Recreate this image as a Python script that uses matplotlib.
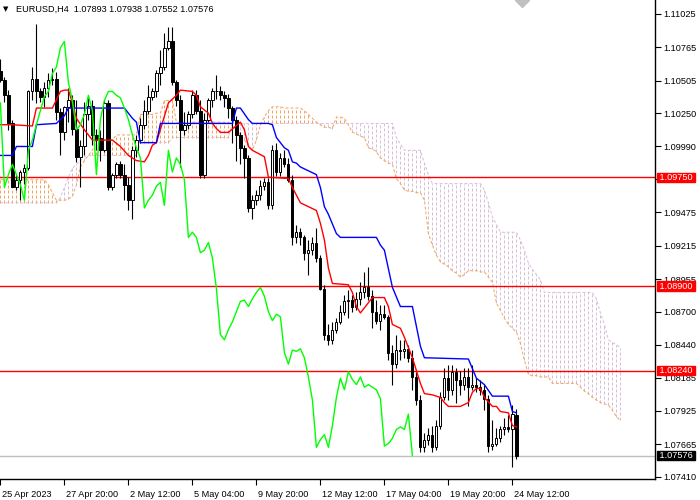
import numpy as np
import matplotlib
matplotlib.use("Agg")
import matplotlib.pyplot as plt
from matplotlib.transforms import ScaledTranslation, blended_transform_factory

plt.rcParams['font.family'] = ['Liberation Sans', 'DejaVu Sans']

# EURUSD H4 candles
opens = [1.1058, 1.1051, 1.1039, 1.1017, 1.0967, 1.0973, 1.0979, 1.0982, 1.1042, 1.1052,
         1.1042, 1.1038, 1.1045, 1.1051, 1.1052, 1.1026, 1.1010, 1.1030, 1.1035, 1.1013,
         1.0991, 1.0999, 1.1024, 1.1031, 1.1008, 1.1006, 1.0996, 1.1033, 1.0967, 1.0977,
         1.0985, 1.0977, 1.0969, 1.0957, 1.0996, 1.1004, 1.1016, 1.1027, 1.1038, 1.1042,
         1.1056, 1.1061, 1.1076, 1.1081, 1.1049, 1.1035, 1.1012, 1.1016, 1.1024, 1.1039,
         1.1027, 1.0977, 1.1020, 1.1035, 1.1042, 1.1042, 1.1039, 1.1037, 1.1029, 1.1020,
         1.1008, 1.0998, 1.0990, 1.0951, 1.0957, 1.0961, 1.0968, 1.0971, 1.0953, 1.0996,
         1.0979, 1.0990, 1.0985, 1.0973, 1.0928, 1.0932, 1.0928, 1.0916, 1.0918, 1.0924,
         1.0912, 1.0888, 1.0852, 1.0848, 1.0856, 1.0862, 1.0870, 1.0878, 1.0879, 1.0874,
         1.0880, 1.0885, 1.0889, 1.0882, 1.0870, 1.0863, 1.0868, 1.0866, 1.0838, 1.0829,
         1.0840, 1.0839, 1.0841, 1.0834, 1.0819, 1.0801, 1.0764, 1.0770, 1.0774, 1.0764,
         1.0781, 1.0803, 1.0818, 1.0809, 1.0823, 1.0817, 1.0813, 1.0819, 1.0811, 1.0813,
         1.0811, 1.0809, 1.0802, 1.0765, 1.0767, 1.0771, 1.0778, 1.0780, 1.0778, 1.07893]
highs = [1.1067, 1.1053, 1.1043, 1.1020, 1.0977, 1.0981, 1.0985, 1.1043, 1.1061, 1.1095,
         1.1045, 1.1049, 1.1056, 1.1060, 1.1057, 1.1029, 1.1031, 1.1045, 1.1039, 1.1035,
         1.1004, 1.1034, 1.1037, 1.1035, 1.1013, 1.1012, 1.1035, 1.1035, 1.0978, 1.0987,
         1.0988, 1.0985, 1.0975, 1.0999, 1.1008, 1.1021, 1.1035, 1.1047, 1.1045, 1.1059,
         1.1074, 1.1088, 1.1092, 1.1092, 1.1051, 1.1039, 1.1026, 1.1027, 1.1043, 1.1043,
         1.1035, 1.1025, 1.1037, 1.1045, 1.1055, 1.1046, 1.1042, 1.1040, 1.1031, 1.1023,
         1.1010, 1.1000, 1.0992, 1.0961, 1.0965, 1.0973, 1.0974, 1.0974, 1.1000, 1.1002,
         1.0994, 1.0996, 1.0990, 1.0977, 1.0938, 1.0935, 1.0930, 1.0926, 1.0928, 1.0935,
         1.0914, 1.0891, 1.0860, 1.0862, 1.0865, 1.0875, 1.0883, 1.0887, 1.0883, 1.0885,
         1.0893, 1.0901, 1.0905, 1.0887, 1.0879, 1.0875, 1.0875, 1.0867, 1.0844, 1.0852,
         1.0848, 1.0848, 1.0844, 1.0840, 1.0823, 1.0805, 1.0775, 1.0779, 1.0781, 1.0785,
         1.0807, 1.0826, 1.0828, 1.0828, 1.0826, 1.0824, 1.0826, 1.0826, 1.0828, 1.0818,
         1.0817, 1.0813, 1.0805, 1.0785, 1.0779, 1.0781, 1.0787, 1.0789, 1.0797, 1.07938]
lows = [1.1049, 1.1034, 1.1012, 1.0967, 1.0965, 1.0957, 1.0970, 1.0981, 1.1035, 1.1033,
        1.1034, 1.1030, 1.1038, 1.1047, 1.1020, 1.0992, 1.1004, 1.1018, 1.1008, 1.0987,
        1.0967, 1.0992, 1.1020, 1.1000, 1.0996, 1.0988, 1.0995, 1.0965, 1.0965, 1.0974,
        1.0974, 1.0957, 1.0949, 1.0942, 1.0991, 1.1002, 1.1013, 1.1024, 1.1035, 1.1038,
        1.1047, 1.1059, 1.1074, 1.1047, 1.1031, 1.0983, 1.1008, 1.1013, 1.1021, 1.1024,
        1.0974, 1.0974, 1.1018, 1.1030, 1.1036, 1.1035, 1.1030, 1.1021, 1.1002, 1.0988,
        1.0985, 1.0974, 1.0948, 1.0942, 1.0953, 1.0957, 1.0965, 1.0950, 1.0950, 1.0976,
        1.0976, 1.0983, 1.0971, 1.0922, 1.0924, 1.0922, 1.0910, 1.0899, 1.0914, 1.0909,
        1.0887, 1.0848, 1.0844, 1.0845, 1.0853, 1.0860, 1.0867, 1.0865, 1.0870, 1.0871,
        1.0875, 1.0881, 1.0879, 1.0857, 1.0860, 1.0856, 1.0864, 1.0832, 1.0813, 1.0826,
        1.0832, 1.0834, 1.0831, 1.0809, 1.0797, 1.0760, 1.0760, 1.0766, 1.0760, 1.0762,
        1.0778, 1.0801, 1.0801, 1.0805, 1.0799, 1.0805, 1.0809, 1.0796, 1.0809, 1.0807,
        1.0805, 1.0793, 1.0760, 1.0762, 1.0765, 1.0768, 1.0774, 1.0776, 1.0749, 1.07552]
closes = [1.1051, 1.1039, 1.1017, 1.0967, 1.0973, 1.0979, 1.0982, 1.1042, 1.1052, 1.1042,
          1.1038, 1.1045, 1.1051, 1.1052, 1.1026, 1.1010, 1.1030, 1.1035, 1.1013, 1.0991,
          1.0999, 1.1024, 1.1031, 1.1008, 1.1004, 1.0996, 1.1033, 1.0967, 1.0977, 1.0985,
          1.0977, 1.0969, 1.0957, 1.0996, 1.1004, 1.1016, 1.1027, 1.1038, 1.1042, 1.1056,
          1.1061, 1.1076, 1.1081, 1.1049, 1.1035, 1.1012, 1.1016, 1.1024, 1.1039, 1.1027,
          1.0977, 1.1020, 1.1035, 1.1042, 1.1042, 1.1039, 1.1037, 1.1029, 1.1020, 1.1008,
          1.0998, 1.0990, 1.0951, 1.0957, 1.0961, 1.0968, 1.0971, 1.0953, 1.0996, 1.0979,
          1.0990, 1.0985, 1.0973, 1.0928, 1.0932, 1.0928, 1.0916, 1.0918, 1.0924, 1.0912,
          1.0888, 1.0852, 1.0848, 1.0856, 1.0862, 1.0870, 1.0878, 1.0879, 1.0874, 1.0880,
          1.0885, 1.0889, 1.0882, 1.0870, 1.0863, 1.0868, 1.0866, 1.0838, 1.0829, 1.0840,
          1.0839, 1.0841, 1.0834, 1.0819, 1.0801, 1.0764, 1.0770, 1.0774, 1.0764, 1.0781,
          1.0803, 1.0818, 1.0809, 1.0823, 1.0817, 1.0813, 1.0819, 1.0811, 1.0813, 1.0811,
          1.0809, 1.0802, 1.0765, 1.0767, 1.0771, 1.0778, 1.0780, 1.0778, 1.0790, 1.07576]

# Ichimoku lines (bar index, price)
tenkan_x = [0, 3, 8, 9, 13, 15, 16, 17, 18, 19, 21, 23, 28, 30, 32, 34, 36, 37, 38, 39,
            42, 44, 45, 48, 49, 50, 52, 53, 54, 55, 57, 60, 61, 62, 63, 66, 67, 72,
            73, 74, 75, 77, 79, 80, 81, 82, 83, 87, 88, 89, 90, 91, 93, 96, 97, 98, 100, 101,
            102, 103, 104, 105, 106, 108, 110, 111, 112, 115, 117, 118, 119, 120, 121, 123,
            124, 125, 127, 128, 129]
tenkan_y = [1.1016, 1.1016, 1.1015, 1.1029, 1.1029, 1.1042, 1.1043, 1.1043, 1.1033, 1.1021,
            1.1012, 1.1004, 1.1004, 1.0999, 1.0992, 1.0988, 1.0987, 1.0992, 1.1000, 1.1002,
            1.1033, 1.1039, 1.1043, 1.1042, 1.1039, 1.1030, 1.1025, 1.1017, 1.1013, 1.1010,
            1.1010, 1.1018, 1.1012, 1.0999, 1.0996, 1.0991, 1.0975, 1.0974,
            1.0967, 1.0961, 1.0955, 1.0952, 1.0949, 1.0939, 1.0926, 1.0904, 1.0892, 1.0891,
            1.0885, 1.0874, 1.0869, 1.0873, 1.0881, 1.0881, 1.0874, 1.0860, 1.0857, 1.0850,
            1.0842, 1.0834, 1.0824, 1.0814, 1.0806, 1.0805, 1.0803, 1.0799, 1.0796, 1.0796,
            1.0799, 1.0807, 1.0810, 1.0810, 1.0803, 1.0796, 1.0796, 1.0792, 1.0791, 1.0781,
            1.0780]
kijun_x = [0, 3, 4, 8, 9, 14, 16, 17, 31, 32, 33, 34, 35, 39, 40, 58, 59, 60, 62, 63,
           67, 68, 69, 71, 72, 73, 74, 75, 79, 80, 81, 82, 84, 85, 94, 95, 96, 98, 100, 103,
           105, 106, 117, 119, 121, 123, 127, 128, 129]
kijun_y = [1.0992, 1.0992, 1.0999, 1.0999, 1.1016, 1.1017, 1.1023, 1.1029, 1.1029, 1.1025,
           1.1021, 1.1018, 1.1002, 1.1002, 1.1017, 1.1017, 1.1029, 1.1029, 1.1020, 1.1017,
           1.1017, 1.1016, 1.1006, 1.0998, 1.0996, 1.0987, 1.0986, 1.0983, 1.0977, 1.0967,
           1.0952, 1.0946, 1.0931, 1.0928, 1.0928, 1.0922, 1.0918, 1.0889, 1.0874, 1.0874,
           1.0843, 1.0834, 1.0833, 1.0818, 1.0813, 1.0804, 1.0804, 1.0792, 1.0791]

# senkou spans, one value per bar (26 bars past the last candle)
span_a = [1.0973, 1.0973, 1.0973, 1.0973, 1.0973, 1.0973, 1.0973, 1.0973, 1.0973, 1.0973,
          1.0973, 1.0973, 1.0969, 1.0963, 1.0957, 1.0957, 1.0957, 1.0958, 1.0960, 1.0969,
          1.0983, 1.0988, 1.0992, 1.0996, 1.1004, 1.1004, 1.1004, 1.1004, 1.1004, 1.1008,
          1.1008, 1.1008, 1.1008, 1.1008, 1.1008, 1.1024, 1.1024, 1.1024, 1.1024, 1.1025,
          1.1025, 1.1035, 1.1035, 1.1035, 1.1018, 1.1018, 1.1018, 1.1018, 1.1018, 1.1018,
          1.1018, 1.1018, 1.1018, 1.1018, 1.1018, 1.1018, 1.1018, 1.1018, 1.1015, 1.1012,
          1.1008, 1.1004, 1.1000, 1.0996, 1.1004, 1.1016, 1.1022, 1.1027, 1.1030, 1.1030,
          1.1030, 1.1029, 1.1029, 1.1029, 1.1029, 1.1029, 1.1027, 1.1024, 1.1021, 1.1018,
          1.1016, 1.1014, 1.1014, 1.1013, 1.1022, 1.1022, 1.1021, 1.1016, 1.1010, 1.1009,
          1.1007, 1.1006, 1.0998, 1.0997, 1.0995, 1.0990, 1.0988, 1.0986, 1.0985, 1.0974,
          1.0970, 1.0965, 1.0964, 1.0964, 1.0963, 1.0963, 1.0957, 1.0931, 1.0922, 1.0914,
          1.0909, 1.0907, 1.0905, 1.0902, 1.0900, 1.0897, 1.0899, 1.0902, 1.0902, 1.0902,
          1.0901, 1.0901, 1.0897, 1.0893, 1.0877, 1.0871, 1.0865, 1.0860, 1.0857, 1.0854,
          1.0845, 1.0832, 1.0821, 1.0820, 1.0820, 1.0819, 1.0819, 1.0819, 1.0814, 1.0814,
          1.0814, 1.0814, 1.0814, 1.0814, 1.0814, 1.0811, 1.0808, 1.0806, 1.0803, 1.0801,
          1.0799, 1.0798, 1.0797, 1.0793, 1.0788, 1.0785]
span_b = [1.0955, 1.0955, 1.0955, 1.0955, 1.0955, 1.0955, 1.0955, 1.0955, 1.0955, 1.0955,
          1.0955, 1.0955, 1.0955, 1.0955, 1.0955, 1.0959, 1.0967, 1.0975, 1.0982, 1.0985,
          1.0988, 1.0991, 1.0992, 1.0992, 1.0992, 1.0992, 1.0992, 1.0992, 1.0992, 1.0992,
          1.0992, 1.0992, 1.0992, 1.0992, 1.0992, 1.1002, 1.1002, 1.1002, 1.1002, 1.1002,
          1.1002, 1.1002, 1.1002, 1.1006, 1.1006, 1.1006, 1.1006, 1.1006, 1.1006, 1.1006,
          1.1006, 1.1006, 1.1006, 1.1006, 1.1006, 1.1006, 1.1006, 1.1006, 1.1017, 1.1017,
          1.1017, 1.1017, 1.1017, 1.1017, 1.1017, 1.1017, 1.1017, 1.1017, 1.1017, 1.1017,
          1.1017, 1.1017, 1.1017, 1.1017, 1.1017, 1.1017, 1.1017, 1.1017, 1.1017, 1.1017,
          1.1017, 1.1017, 1.1017, 1.1017, 1.1017, 1.1017, 1.1017, 1.1017, 1.1017, 1.1017,
          1.1017, 1.1017, 1.1017, 1.1017, 1.1017, 1.1017, 1.1017, 1.1017, 1.1017, 1.1006,
          1.1001, 1.0996, 1.0996, 1.0996, 1.0996, 1.0996, 1.0986, 1.0977, 1.0970, 1.0970,
          1.0970, 1.0970, 1.0970, 1.0970, 1.0970, 1.0970, 1.0970, 1.0970, 1.0970, 1.0970,
          1.0970, 1.0965, 1.0955, 1.0944, 1.0938, 1.0932, 1.0932, 1.0932, 1.0932, 1.0932,
          1.0926, 1.0918, 1.0908, 1.0903, 1.0899, 1.0895, 1.0885, 1.0885, 1.0885, 1.0885,
          1.0885, 1.0885, 1.0885, 1.0885, 1.0885, 1.0885, 1.0885, 1.0885, 1.0885, 1.0880,
          1.0869, 1.0860, 1.0848, 1.0846, 1.0844, 1.0842]

levels = [1.09750, 1.08900, 1.08240]
last_price = 1.07576
price_ticks = [1.11025, 1.10765, 1.10505, 1.10250, 1.09990, 1.09735, 1.09475, 1.09215,
               1.08955, 1.08700, 1.08440, 1.08185, 1.07925, 1.07665, 1.07410]
price_labels = ["1.11025", "1.10765", "1.10505", "1.10250", "1.09990", "", "1.09475",
                "1.09215", "1.08955", "1.08700", "1.08440", "1.08185", "1.07925",
                "1.07665", "1.07410"]
time_ticks = [0, 16, 32, 48, 64, 80, 96, 112, 128]
time_labels = ["25 Apr 2023", "27 Apr 20:00", "2 May 12:00", "5 May 04:00", "9 May 20:00",
               "12 May 12:00", "17 May 04:00", "19 May 20:00", "24 May 12:00"]
title = "EURUSD,H4  1.07893 1.07938 1.07552 1.07576"

o = np.array(opens)
h = np.array(highs)
l = np.array(lows)
c = np.array(closes)
bars = np.arange(len(c))
a = np.array(span_a)
b = np.array(span_b)
fut = np.arange(len(a))

fig = plt.figure(figsize=(7, 5), dpi=100)
ax = fig.add_axes([0, 21 / 500, 655 / 700, 479 / 500])
ax.set_xlim(-0.1, 163.65)
ax.set_ylim(1.07393, 1.11134)

dot = (0, (3, 2))
# kumo: one dotted vertical per bar, coloured by the upper span
up = a >= b
ax.vlines(fut[up], b[up], a[up], colors='#F4A460', linestyles=dot, lw=0.72, zorder=1)
ax.vlines(fut[~up], a[~up], b[~up], colors='#D8BFD8', linestyles=dot, lw=0.72, zorder=1)
ax.plot(fut, a, color='#F4A460', ls=dot, lw=0.72, zorder=1)
ax.plot(fut, b, color='#D8BFD8', ls=dot, lw=0.72, zorder=1)

for lv in levels:
    ax.axhline(lv, color='red', lw=1, zorder=2)
ax.axhline(last_price, color='#C0C0C0', lw=1, zorder=2)

# candles
ax.vlines(bars, l, h, color='black', lw=0.8, zorder=3)
bull = c >= o
ax.bar(bars[bull], c[bull] - o[bull], bottom=o[bull], width=0.55,
       color='white', edgecolor='black', lw=0.7, zorder=4)
ax.bar(bars[~bull], o[~bull] - c[~bull], bottom=c[~bull], width=0.55,
       color='black', edgecolor='black', lw=0.7, zorder=4)

ax.plot(tenkan_x, tenkan_y, color='red', lw=1, zorder=5)
ax.plot(kijun_x, kijun_y, color='blue', lw=1, zorder=5)
ax.plot(bars[26:] - 26, c[26:], color='#00FF00', lw=1, zorder=5)

# chart shift marker
ax.plot([130.3], [1.11134], marker='D', ms=7, color='#C0C0C0', zorder=6, clip_on=True)

for s in ['top', 'left']:
    ax.spines[s].set_visible(False)
for s in ['right', 'bottom']:
    ax.spines[s].set_linewidth(1)

ax.yaxis.tick_right()
ax.set_yticks(price_ticks)
ax.set_yticklabels(price_labels)
ax.set_xticks(time_ticks)
ax.set_xticklabels(time_labels)
ax.tick_params(axis='both', direction='out', length=4, width=0.8, labelsize=6.6, pad=2)
ax.tick_params(axis='x', pad=4)
shift = ScaledTranslation(2 / 100, 0, fig.dpi_scale_trans)
for lbl in ax.get_xticklabels():
    lbl.set_horizontalalignment('left')
    lbl.set_transform(lbl.get_transform() + shift)

trans = blended_transform_factory(ax.transAxes, ax.transData)
for lv in levels:
    ax.text(1.003, lv, f" {lv:.5f} ", transform=trans, ha='left', va='center',
            color='white', fontsize=6.6, zorder=10, clip_on=False,
            bbox=dict(boxstyle='square,pad=0.02', fc='red', ec='red'))
ax.text(1.003, last_price, f" {last_price:.5f} ", transform=trans, ha='left', va='center',
        color='white', fontsize=6.6, zorder=10, clip_on=False,
        bbox=dict(boxstyle='square,pad=0.02', fc='black', ec='black'))

fig.text(3 / 700, 1 - 9 / 500, "\u25BC", fontsize=5, family='DejaVu Sans', va='center')
fig.text(16 / 700, 1 - 9 / 500, title, fontsize=6.6, va='center')

fig.savefig("out.png", dpi=100)
